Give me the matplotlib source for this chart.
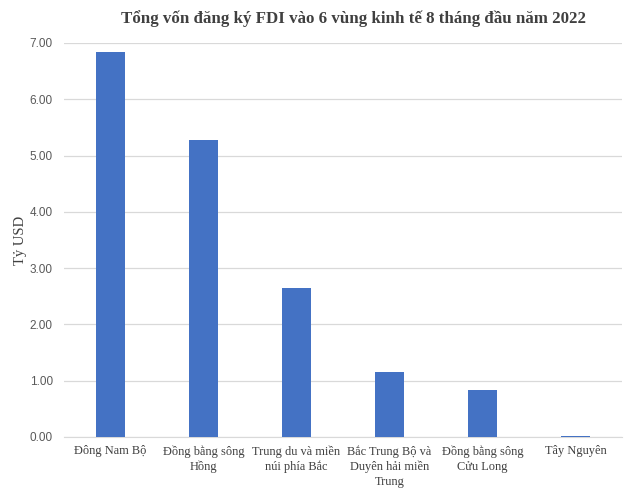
import matplotlib
matplotlib.use("Agg")
import matplotlib.pyplot as plt
from matplotlib.ticker import FormatStrFormatter

categories = ["Đông Nam Bộ", "Đồng bằng sông\nHồng", "Trung du và miền\nnúi phía Bắc",
              "Bắc Trung Bộ và\nDuyên hải miền\nTrung", "Đồng bằng sông\nCửu Long", "Tây Nguyên"]
values = [6.84, 5.28, 2.65, 1.16, 0.83, 0.02]
title = "Tổng vốn đăng ký FDI vào 6 vùng kinh tế 8 tháng đầu năm 2022"
ylabel = "Tỷ USD"

fig = plt.figure(figsize=(6.4, 4.93), dpi=100)
ax = fig.add_axes([0.1, 0.1136, 0.872, 0.7992])
x = range(len(categories))
ax.bar(x, values, width=0.31, color="#4472C4", zorder=3)
ax.set_xlim(-0.5, len(categories) - 0.5)
ax.set_ylim(0, 7)
ax.set_yticks([0, 1, 2, 3, 4, 5, 6, 7])
ax.yaxis.set_major_formatter(FormatStrFormatter("%.2f"))
ax.grid(axis="y", color="#d9d9d9", linewidth=0.9, zorder=0)
for s in ["top", "right", "left"]:
    ax.spines[s].set_visible(False)
ax.spines["bottom"].set_color("#d9d9d9")
ax.tick_params(axis="both", length=0)
ax.set_xticks(list(x))
ax.set_xticklabels(categories, fontfamily="Liberation Serif", fontsize=8.9, color="#404040",
                   linespacing=1.3)
for lab in ax.get_yticklabels():
    lab.set_fontfamily("Liberation Sans")
    lab.set_fontsize(8.5)
    lab.set_color("#595959")
ax.tick_params(axis="y", pad=8)
ax.tick_params(axis="x", pad=6)
ax.set_ylabel(ylabel, fontfamily="Liberation Serif", fontsize=10.5, color="#404040", labelpad=2)
fig.text(0.553, 0.963, title, ha="center", va="center", fontfamily="Liberation Serif",
         fontsize=12.2, fontweight="bold", color="#404040")
fig.savefig("out.png", dpi=100)
